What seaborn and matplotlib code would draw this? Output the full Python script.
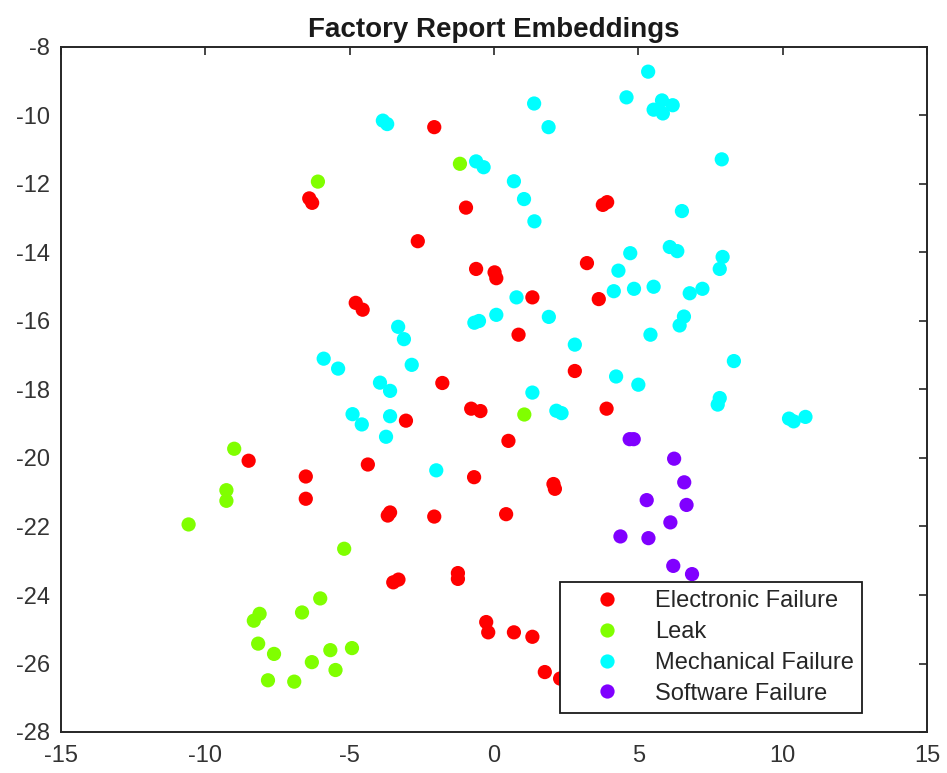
import matplotlib
matplotlib.use("Agg")
import matplotlib.pyplot as plt
import seaborn as sns
import pandas as pd

categories = ["Electronic Failure", "Leak", "Mechanical Failure", "Software Failure"]
colors = ["#ff0000", "#80ff00", "#00ffff", "#8000ff"]

electronic_x = [-2.07, -6.40, -6.30, -0.97, -2.64, 3.77, 3.92, 3.22, -0.62, 0.02, 0.08, 1.33, 3.63,
                -4.79, -4.55, 0.85, 2.80, -1.79, -0.79, -0.47, 3.90, -3.05, 0.50, -8.50, -4.37, -6.52,
                -0.69, -6.52, 2.06, 2.11, -3.68, -3.60, -2.07, 0.42, -3.49, -3.31, -1.25, -1.25, -0.27,
                -0.20, 0.69, 1.33, 1.76, 2.29]
electronic_y = [-10.34, -12.42, -12.55, -12.69, -13.67, -12.61, -12.53, -14.31, -14.48, -14.58, -14.75,
                -15.31, -15.36, -15.47, -15.67, -16.40, -17.46, -17.81, -18.56, -18.63, -18.56, -18.91,
                -19.50, -20.08, -20.19, -20.54, -20.56, -21.19, -20.76, -20.90, -21.68, -21.59, -21.71,
                -21.64, -23.63, -23.55, -23.36, -23.53, -24.79, -25.09, -25.09, -25.22, -26.25, -26.44]

leak_x = [-6.10, -1.18, 1.05, -9.00, -9.27, -9.27, -10.58, -5.19, -6.02, -6.65, -8.12, -8.32, -8.17,
          -7.62, -5.67, -4.92, -6.31, -5.49, -7.83, -6.92]
leak_y = [-11.93, -11.41, -18.73, -19.73, -20.94, -21.25, -21.94, -22.65, -24.10, -24.51, -24.55, -24.75,
          -25.42, -25.72, -25.61, -25.55, -25.96, -26.19, -26.49, -26.53]

mechanical_x = [-3.85, -3.70, 1.39, 1.89, -0.62, -0.36, 0.69, 1.04, 1.40, 5.34, 4.59, 5.53, 5.82, 5.85,
                6.19, 7.89, 6.51, 4.72, 6.09, 6.35, 7.92, 7.82, 4.31, 4.85, 5.53, 6.78, 7.22, 4.15, 6.58,
                6.43, 5.42, 8.31, 5.00, 4.23, 7.82, 7.75, 10.22, 10.38, 10.79, 0.78, 1.90, 0.08, -0.68,
                -0.52, -3.32, -3.12, -2.85, 2.80, -3.95, -3.60, 1.33, -4.90, -4.58, -3.60, -3.74, 2.16,
                2.34, -2.00, -5.90, -5.40]
mechanical_y = [-10.15, -10.25, -9.65, -10.34, -11.34, -11.51, -11.92, -12.44, -13.09, -8.72, -9.47, -9.83,
                -9.56, -9.94, -9.70, -11.28, -12.79, -14.02, -13.84, -13.96, -14.13, -14.48, -14.53,
                -15.06, -15.00, -15.19, -15.06, -15.13, -15.87, -16.13, -16.40, -17.17, -17.86, -17.62,
                -18.25, -18.44, -18.85, -18.93, -18.80, -15.31, -15.88, -15.82, -16.05, -16.00, -16.17,
                -16.53, -17.28, -16.69, -17.80, -18.04, -18.09, -18.72, -19.02, -18.78, -19.38, -18.62,
                -18.69, -20.36, -17.10, -17.39]

software_x = [4.70, 4.84, 6.24, 6.59, 5.29, 6.67, 6.11, 4.38, 5.35, 6.21, 6.86]
software_y = [-19.45, -19.45, -20.02, -20.71, -21.23, -21.37, -21.88, -22.29, -22.34, -23.15, -23.39]

x_ticks = [-15, -10, -5, 0, 5, 10, 15]
y_ticks = [-28, -26, -24, -22, -20, -18, -16, -14, -12, -10, -8]

df = pd.concat([
    pd.DataFrame({"x": electronic_x, "y": electronic_y, "type": categories[0]}),
    pd.DataFrame({"x": leak_x, "y": leak_y, "type": categories[1]}),
    pd.DataFrame({"x": mechanical_x, "y": mechanical_y, "type": categories[2]}),
    pd.DataFrame({"x": software_x, "y": software_y, "type": categories[3]}),
], ignore_index=True)

sns.set_style("white")
plt.rcParams["font.family"] = ["Liberation Sans", "DejaVu Sans"]

dark = "#262626"
fig = plt.figure(figsize=(9.47, 7.73), dpi=100)
ax = fig.add_axes([61 / 947, 1 - 732 / 773, 866 / 947, 685 / 773])

sns.scatterplot(data=df, x="x", y="y", hue="type", hue_order=categories,
                palette=dict(zip(categories, colors)), s=105, linewidth=0,
                edgecolor="none", ax=ax, legend=True)

ax.set_xlim(-15, 15)
ax.set_ylim(-28, -8)
ax.set_xticks(x_ticks)
ax.set_yticks(y_ticks)
ax.set_xticklabels([str(v) for v in x_ticks])
ax.set_yticklabels([str(v) for v in y_ticks])
ax.set_xlabel("")
ax.set_ylabel("")

for sp in ax.spines.values():
    sp.set_visible(True)
    sp.set_color(dark)
    sp.set_linewidth(1.4)

ax.tick_params(axis="both", which="major", direction="in", length=6, width=1.2,
               colors=dark, labelsize=17, top=True, right=True)
ax.tick_params(axis="x", pad=9)
ax.tick_params(axis="y", pad=8)
for lab in ax.get_xticklabels() + ax.get_yticklabels():
    lab.set_color("#333333")

ax.set_title("Factory Report Embeddings", fontsize=20, fontweight="bold", color="#1a1a1a", pad=7)

handles, labels = ax.get_legend_handles_labels()
leg = ax.legend(handles, labels, loc="lower right", bbox_to_anchor=(0.925, 0.028),
                fontsize=17, frameon=True, fancybox=False, framealpha=1,
                edgecolor="#1a1a1a", borderpad=0.35, handlelength=3.2, handletextpad=0.45,
                labelspacing=0.37, markerscale=1.0, borderaxespad=0)
leg.get_frame().set_linewidth(1.3)
for t in leg.get_texts():
    t.set_color("#262626")

fig.savefig("out.png", dpi=100)
